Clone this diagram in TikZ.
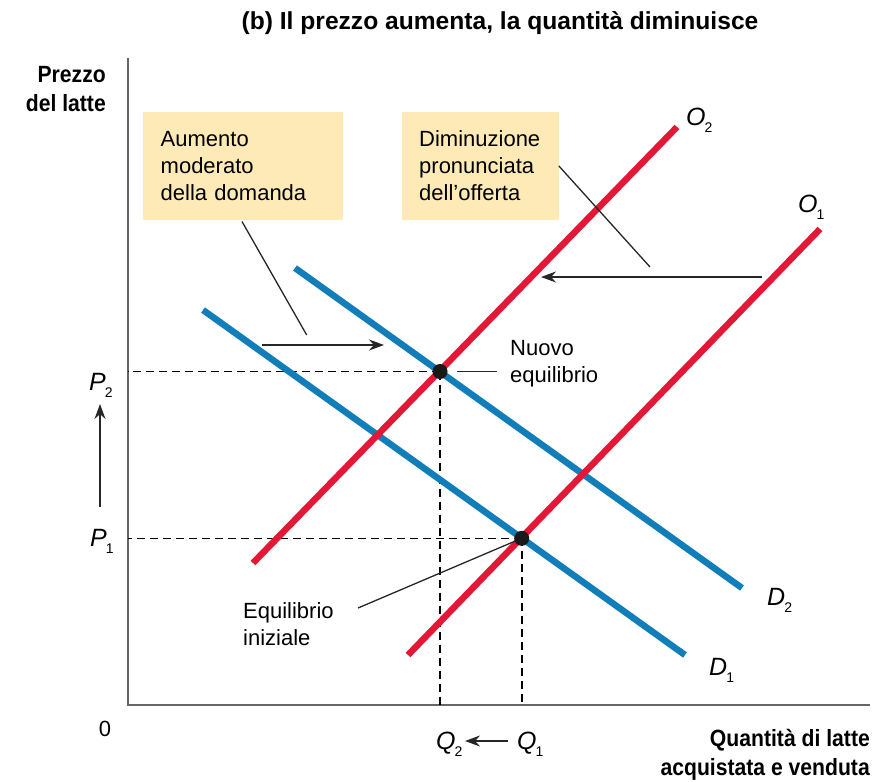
\documentclass[tikz,border=0pt]{standalone}
\usepackage{fontspec}
\setmainfont{Liberation Sans}
\newfontfamily\condbf{Liberation Sans Bold}[FakeStretch=0.9]
\usetikzlibrary{arrows.meta}
\definecolor{supred}{RGB}{226,24,54}
\definecolor{demblue}{RGB}{17,125,185}
\definecolor{boxfill}{RGB}{253,234,182}
\newcommand{\sublab}[2]{\textit{#1}\kern-1pt\raisebox{-7pt}{\fontsize{14}{14}\selectfont #2}}
\begin{document}
\begin{tikzpicture}[x=1pt,y=-1pt,
  txt/.style={inner sep=0pt, font=\fontsize{22}{27}\selectfont, align=left},
  axlabel/.style={inner sep=0pt, font=\condbf\fontsize{23.5}{28.5}\selectfont, align=right},
  varlab/.style={inner sep=0pt, font=\fontsize{25}{25}\selectfont},
  infobox/.style={fill=boxfill, draw=none, anchor=north west, align=left, inner xsep=17.5pt, inner ysep=19.2pt, text height=16pt, font=\fontsize{22}{27}\selectfont},
  demand/.style={draw=demblue, line width=6.5pt},
  supply/.style={draw=supred, line width=6.5pt},
  guide/.style={draw=black, line width=1.6pt, dash pattern=on 8pt off 5pt},
  pointer/.style={draw=black!85, line width=1.3pt},
  shiftarrow/.style={draw=black!85, line width=1.6pt, -{Stealth[length=15pt,width=11pt]}},
  axisline/.style={draw=black!60, line width=2.4pt},
  eqdot/.style={circle, fill=black!90, inner sep=0pt, minimum size=15pt}]
\useasboundingbox (0,0) rectangle (882,781);

% title
\node[inner sep=0pt, font=\bfseries\fontsize{24.6}{28}\selectfont, anchor=base] (title) at (500,30) {(b) Il prezzo aumenta, la quantità diminuisce};

% axes
\coordinate (O) at (127.7,705);
\coordinate (ytop) at (127.7,58);
\coordinate (xend) at (870,705);
\draw[axisline] (ytop) -- (O) -- (xend);
\node[axlabel, anchor=base east] (ylab) at (106,111.5) {Prezzo\\del latte};
\node[axlabel, anchor=base east] (xlab) at (870,775) {Quantità di latte\\acquistata e venduta};
\node[txt, anchor=base] (zero) at (105,736) {0};

% equilibria
\coordinate (E2c) at (440,371.5);
\coordinate (E1c) at (521.7,538.3);

% guides
\draw[guide] (E2c) -- (E2c -| O);
\draw[guide] (E2c) -- (E2c |- O);
\draw[guide] (E1c) -- (E1c -| O);
\draw[guide] (E1c) -- (E1c |- O);

% boxes
\node[infobox, text width=165pt, minimum width=200pt, minimum height=108.5pt] (boxD) at (143,111.5) {Aumento\\moderato\\della domanda};
\node[infobox, text width=122pt, minimum width=157pt, minimum height=108pt] (boxS) at (401.5,111.5) {Diminuzione\\pronunciata\\dell’offerta};

% curves
\coordinate (D1a) at (203,310);
\coordinate (D1b) at (685,655);
\coordinate (D2a) at (295,268);
\coordinate (D2b) at (742,588);
\coordinate (O2a) at (253,563);
\coordinate (O2b) at (677,127);
\coordinate (O1a) at (408,655);
\coordinate (O1b) at (820,229);
\draw[demand] (D1a) -- (D1b);
\draw[demand] (D2a) -- (D2b);
\draw[supply] (O2a) -- (O2b);
\draw[supply] (O1a) -- (O1b);

% curve labels
\node[varlab, anchor=base west] (lO2) at (686,125) {\sublab{O}{2}};
\node[varlab, anchor=base west] (lO1) at (798,212) {\sublab{O}{1}};
\node[varlab, anchor=base west] (lD2) at (767,605) {\sublab{D}{2}};
\node[varlab, anchor=base west] (lD1) at (709,675) {\sublab{D}{1}};
\node[varlab, anchor=base west] (lP2) at (89,390) {\sublab{P}{2}};
\node[varlab, anchor=base west] (lP1) at (90,546) {\sublab{P}{1}};
\node[varlab, anchor=base west] (lQ2) at (436,749) {\sublab{Q}{2}};
\node[varlab, anchor=base west] (lQ1) at (517,749) {\sublab{Q}{1}};

% pointers from boxes
\coordinate (pDend) at (306.7,335);
\draw[pointer] ([xshift=99pt,yshift=-1pt]boxD.south west) -- (pDend);
\coordinate (pSend) at (650,267);
\draw[pointer] (boxS.east) -- (pSend);

% shift arrows
\coordinate (aD1) at (262,345);
\coordinate (aD2) at (384,345);
\draw[shiftarrow] (aD1) -- (aD2);
\coordinate (aS1) at (762,277);
\coordinate (aS2) at (541,277);
\draw[shiftarrow] (aS1) -- (aS2);
\coordinate (aP1) at (100,507);
\coordinate (aP2) at (100,404);
\draw[shiftarrow] (aP1) -- (aP2);
\coordinate (aQ1) at (508,741);
\coordinate (aQ2) at (465,741);
\draw[shiftarrow] (aQ1) -- (aQ2);

% equilibrium labels
\node[txt, anchor=base west] (nuovo) at (510,382) {Nuovo\\equilibrio};
\node[txt, anchor=base west] (iniz) at (243,645) {Equilibrio\\iniziale};
\coordinate (pN1) at (457,371.5);
\coordinate (pN2) at (497,371.5);
\draw[pointer] (pN1) -- (pN2);
\coordinate (pI1) at (358,608);
\draw[pointer] (pI1) -- (E1c);

% dots
\node[eqdot] (E2) at (E2c) {};
\node[eqdot] (E1) at (E1c) {};
\end{tikzpicture}
\end{document}
